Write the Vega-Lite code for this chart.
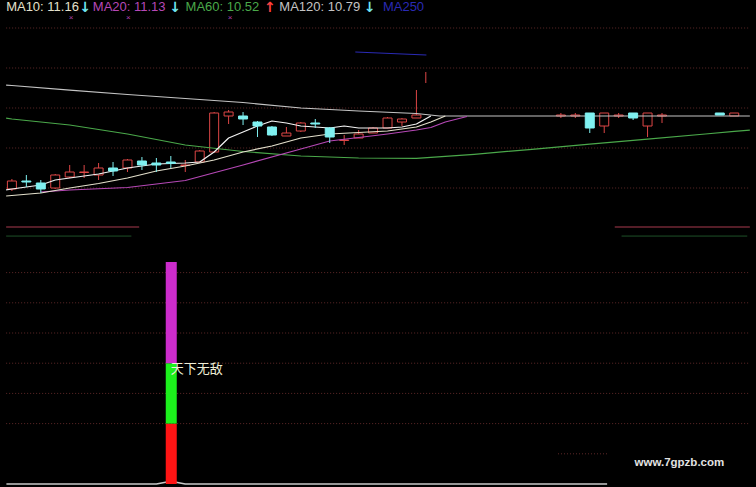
{
  "$schema": "https://vega.github.io/schema/vega-lite/v6.json",
  "background": "#000000",
  "padding": 0,
  "spacing": 0,
  "resolve": {"scale": {"color": "independent"}},
  "config": {
    "view": {"stroke": null},
    "axis": {"disable": true},
    "legend": {"disable": true},
    "text": {"font": "Liberation Sans"}
  },
  "datasets": {
    "candles": [
      {"day": 0, "open": 8.975, "close": 9.175, "high": 9.225, "low": 8.925, "dir": "up"},
      {"day": 1, "open": 9.175, "close": 9.15, "high": 9.325, "low": 9.025, "dir": "down"},
      {"day": 2, "open": 9.125, "close": 8.975, "high": 9.2, "low": 8.875, "dir": "down"},
      {"day": 3, "open": 9.0, "close": 9.325, "high": 9.35, "low": 8.975, "dir": "up"},
      {"day": 4, "open": 9.275, "close": 9.4, "high": 9.575, "low": 9.25, "dir": "up"},
      {"day": 5, "open": 9.3875, "close": 9.4, "high": 9.575, "low": 9.25, "dir": "up"},
      {"day": 6, "open": 9.325, "close": 9.5, "high": 9.625, "low": 9.2, "dir": "up"},
      {"day": 7, "open": 9.5, "close": 9.425, "high": 9.65, "low": 9.3, "dir": "down"},
      {"day": 8, "open": 9.5, "close": 9.7, "high": 9.725, "low": 9.4, "dir": "up"},
      {"day": 9, "open": 9.675, "close": 9.575, "high": 9.775, "low": 9.45, "dir": "down"},
      {"day": 10, "open": 9.625, "close": 9.575, "high": 9.75, "low": 9.4, "dir": "down"},
      {"day": 11, "open": 9.65, "close": 9.6125, "high": 9.8, "low": 9.5, "dir": "down"},
      {"day": 12, "open": 9.5625, "close": 9.575, "high": 9.7, "low": 9.4, "dir": "up"},
      {"day": 13, "open": 9.65, "close": 9.925, "high": 9.95, "low": 9.625, "dir": "up"},
      {"day": 14, "open": 9.9, "close": 10.875, "high": 10.9, "low": 9.9, "dir": "up"},
      {"day": 15, "open": 10.8, "close": 10.9, "high": 10.95, "low": 10.6, "dir": "up"},
      {"day": 16, "open": 10.8, "close": 10.725, "high": 10.9, "low": 10.575, "dir": "down"},
      {"day": 17, "open": 10.65, "close": 10.55, "high": 10.675, "low": 10.275, "dir": "down"},
      {"day": 18, "open": 10.525, "close": 10.325, "high": 10.55, "low": 10.3, "dir": "down"},
      {"day": 19, "open": 10.3, "close": 10.375, "high": 10.525, "low": 10.3, "dir": "up"},
      {"day": 20, "open": 10.425, "close": 10.625, "high": 10.65, "low": 10.4, "dir": "up"},
      {"day": 21, "open": 10.625, "close": 10.6, "high": 10.725, "low": 10.5, "dir": "down"},
      {"day": 22, "open": 10.5, "close": 10.275, "high": 10.525, "low": 10.125, "dir": "down"},
      {"day": 23, "open": 10.1875, "close": 10.2, "high": 10.325, "low": 10.075, "dir": "up"},
      {"day": 24, "open": 10.25, "close": 10.35, "high": 10.45, "low": 10.25, "dir": "up"},
      {"day": 25, "open": 10.375, "close": 10.5, "high": 10.525, "low": 10.375, "dir": "up"},
      {"day": 26, "open": 10.5, "close": 10.75, "high": 10.775, "low": 10.5, "dir": "up"},
      {"day": 27, "open": 10.65, "close": 10.725, "high": 10.75, "low": 10.55, "dir": "up"},
      {"day": 28, "open": 10.75, "close": 10.825, "high": 11.45, "low": 10.75, "dir": "up"},
      {"day": 38, "open": 10.8, "close": 10.825, "high": 10.875, "low": 10.75, "dir": "up"},
      {"day": 39, "open": 10.8, "close": 10.825, "high": 10.875, "low": 10.75, "dir": "up"},
      {"day": 40, "open": 10.875, "close": 10.5, "high": 10.875, "low": 10.375, "dir": "down"},
      {"day": 41, "open": 10.55, "close": 10.875, "high": 10.875, "low": 10.375, "dir": "up"},
      {"day": 42, "open": 10.8, "close": 10.825, "high": 10.875, "low": 10.75, "dir": "up"},
      {"day": 43, "open": 10.875, "close": 10.75, "high": 10.875, "low": 10.7, "dir": "down"},
      {"day": 44, "open": 10.55, "close": 10.875, "high": 10.875, "low": 10.275, "dir": "up"},
      {"day": 45, "open": 10.8, "close": 10.825, "high": 10.875, "low": 10.625, "dir": "up"},
      {"day": 49, "open": 10.875, "close": 10.825, "high": 10.875, "low": 10.825, "dir": "down"},
      {"day": 50, "open": 10.8, "close": 10.875, "high": 10.875, "low": 10.8, "dir": "up"}
    ],
    "ma": [
      {"series": "MA120", "day": -0.4, "price": 11.573},
      {"series": "MA120", "day": 0, "price": 11.5625},
      {"series": "MA120", "day": 4, "price": 11.445},
      {"series": "MA120", "day": 8, "price": 11.3375},
      {"series": "MA120", "day": 12, "price": 11.2375},
      {"series": "MA120", "day": 16, "price": 11.1375},
      {"series": "MA120", "day": 20, "price": 11.0},
      {"series": "MA120", "day": 24, "price": 10.925},
      {"series": "MA120", "day": 28, "price": 10.8625},
      {"series": "MA120", "day": 29.6, "price": 10.8},
      {"series": "MA120", "day": 51.08, "price": 10.8},
      {"series": "MA60", "day": -0.4, "price": 10.745},
      {"series": "MA60", "day": 0, "price": 10.725},
      {"series": "MA60", "day": 4, "price": 10.575},
      {"series": "MA60", "day": 8, "price": 10.35},
      {"series": "MA60", "day": 12, "price": 10.075},
      {"series": "MA60", "day": 16, "price": 9.9125},
      {"series": "MA60", "day": 20, "price": 9.8},
      {"series": "MA60", "day": 24, "price": 9.75},
      {"series": "MA60", "day": 28, "price": 9.7425},
      {"series": "MA60", "day": 32, "price": 9.8425},
      {"series": "MA60", "day": 36, "price": 9.9675},
      {"series": "MA60", "day": 40, "price": 10.095},
      {"series": "MA60", "day": 44, "price": 10.2225},
      {"series": "MA60", "day": 48, "price": 10.35},
      {"series": "MA60", "day": 50, "price": 10.415},
      {"series": "MA60", "day": 51.08, "price": 10.447},
      {"series": "MA20", "day": 2, "price": 8.9},
      {"series": "MA20", "day": 4, "price": 8.95},
      {"series": "MA20", "day": 8, "price": 9.0125},
      {"series": "MA20", "day": 12, "price": 9.1875},
      {"series": "MA20", "day": 16, "price": 9.575},
      {"series": "MA20", "day": 20, "price": 9.975},
      {"series": "MA20", "day": 22, "price": 10.175},
      {"series": "MA20", "day": 24, "price": 10.2625},
      {"series": "MA20", "day": 26, "price": 10.35},
      {"series": "MA20", "day": 28, "price": 10.45},
      {"series": "MA20", "day": 29, "price": 10.5125},
      {"series": "MA20", "day": 30, "price": 10.65},
      {"series": "MA20", "day": 31.5, "price": 10.7875},
      {"series": "MA5", "day": -0.4, "price": 8.955},
      {"series": "MA5", "day": 0, "price": 8.975},
      {"series": "MA5", "day": 2, "price": 9.075},
      {"series": "MA5", "day": 3, "price": 9.2},
      {"series": "MA5", "day": 6, "price": 9.35},
      {"series": "MA5", "day": 8, "price": 9.5},
      {"series": "MA5", "day": 10, "price": 9.6},
      {"series": "MA5", "day": 12, "price": 9.625},
      {"series": "MA5", "day": 13, "price": 9.65},
      {"series": "MA5", "day": 14, "price": 9.9},
      {"series": "MA5", "day": 15, "price": 10.25},
      {"series": "MA5", "day": 16, "price": 10.4},
      {"series": "MA5", "day": 17, "price": 10.55},
      {"series": "MA5", "day": 18, "price": 10.675},
      {"series": "MA5", "day": 19, "price": 10.625},
      {"series": "MA5", "day": 20, "price": 10.55},
      {"series": "MA5", "day": 22, "price": 10.5},
      {"series": "MA5", "day": 23, "price": 10.55},
      {"series": "MA5", "day": 24, "price": 10.5},
      {"series": "MA5", "day": 26, "price": 10.5},
      {"series": "MA5", "day": 27, "price": 10.525},
      {"series": "MA5", "day": 28, "price": 10.6},
      {"series": "MA5", "day": 29, "price": 10.8},
      {"series": "MA10", "day": -0.4, "price": 8.8},
      {"series": "MA10", "day": 0, "price": 8.8125},
      {"series": "MA10", "day": 2, "price": 8.875},
      {"series": "MA10", "day": 4, "price": 9.0},
      {"series": "MA10", "day": 6, "price": 9.1125},
      {"series": "MA10", "day": 8, "price": 9.25},
      {"series": "MA10", "day": 10, "price": 9.425},
      {"series": "MA10", "day": 12, "price": 9.55},
      {"series": "MA10", "day": 14, "price": 9.7},
      {"series": "MA10", "day": 16, "price": 9.9},
      {"series": "MA10", "day": 18, "price": 10.05},
      {"series": "MA10", "day": 20, "price": 10.25},
      {"series": "MA10", "day": 22, "price": 10.35},
      {"series": "MA10", "day": 24, "price": 10.3875},
      {"series": "MA10", "day": 26, "price": 10.425},
      {"series": "MA10", "day": 28, "price": 10.525},
      {"series": "MA10", "day": 29, "price": 10.65},
      {"series": "MA10", "day": 30, "price": 10.8},
      {"series": "MA250", "day": 23.77, "price": 12.4},
      {"series": "MA250", "day": 28.69, "price": 12.325}
    ],
    "header": [
      {"day": -0.4, "price": 13.525, "label": "MA10: 11.16", "series": "MA10"},
      {"day": 5.6, "price": 13.525, "label": "MA20: 11.13", "series": "MA20"},
      {"day": 12.02, "price": 13.525, "label": "MA60: 10.52", "series": "MA60"},
      {"day": 18.51, "price": 13.525, "label": "MA120: 10.79", "series": "MA120"},
      {"day": 25.68, "price": 13.525, "label": "MA250", "series": "MA250"}
    ],
    "trend": [
      {"day": 4.66, "price": 13.5, "label": "↓", "series": "fall"},
      {"day": 10.9, "price": 13.5, "label": "↓", "series": "fall"},
      {"day": 17.45, "price": 13.5, "label": "↑", "series": "rise"},
      {"day": 24.35, "price": 13.5, "label": "↓", "series": "fall"}
    ],
    "crossMarks": [
      {"day": 4.1, "price": 13.25},
      {"day": 8.06, "price": 13.25},
      {"day": 15.1, "price": 13.25}
    ],
    "priceGrid": [
      {"day": -0.4, "day2": 51.08, "price": 9},
      {"day": -0.4, "day2": 51.08, "price": 10},
      {"day": -0.4, "day2": 51.08, "price": 11},
      {"day": -0.4, "day2": 51.08, "price": 12},
      {"day": -0.4, "day2": 51.08, "price": 13}
    ],
    "topSep": [
      {"day": -0.4, "day2": 8.81, "price": 8.025},
      {"day": 41.73, "day2": 51.08, "price": 8.025}
    ],
    "spike": [{"day": 28.65, "low": 11.625, "high": 11.9}],
    "indGrid": [
      {"day": 37.8, "day2": 41.2, "value": 10},
      {"day": -0.4, "day2": 51.08, "value": 20},
      {"day": -0.4, "day2": 51.08, "value": 30},
      {"day": -0.4, "day2": 51.08, "value": 40},
      {"day": -0.4, "day2": 51.08, "value": 50},
      {"day": -0.4, "day2": 51.08, "value": 60},
      {"day": -0.4, "day2": 51.08, "value": 70}
    ],
    "indSep": [
      {"day": -0.4, "day2": 8.27, "value": 82.1},
      {"day": 42.2, "day2": 50.9, "value": 82.1}
    ],
    "indLine": [
      {"day": -0.38, "value": 0},
      {"day": 10, "value": 0},
      {"day": 11, "value": 0.9},
      {"day": 12, "value": 0},
      {"day": 41.2, "value": 0}
    ],
    "signal": [
      {"day": 11.03, "part": "base", "lo": 0, "hi": 20},
      {"day": 11.03, "part": "mid", "lo": 20, "hi": 40},
      {"day": 11.03, "part": "top", "lo": 40, "hi": 73.5}
    ],
    "notes": [{"day": 11.0, "value": 38.1, "label": "天下无敌"}],
    "site": [{"day": 43.1, "value": 6.95, "label": "www.7gpzb.com"}]
  },
  "vconcat": [
    {
      "width": 756,
      "height": 228,
      "layer": [
        {
          "data": {"name": "priceGrid"},
          "mark": {"type": "rule", "color": "#5e2828", "strokeDash": [1, 2], "strokeWidth": 1},
          "encoding": {
            "x": {"field": "day", "type": "quantitative", "scale": {"domain": [-0.478, 51.16], "nice": false, "zero": false}},
            "x2": {"field": "day2"},
            "y": {"field": "price", "type": "quantitative", "scale": {"domain": [8, 13.7], "nice": false, "zero": false}}
          }
        },
        {
          "data": {"name": "topSep"},
          "mark": {"type": "rule", "color": "#a83a4e", "strokeWidth": 1},
          "encoding": {
            "x": {"field": "day", "type": "quantitative", "scale": {"domain": [-0.478, 51.16], "nice": false, "zero": false}},
            "x2": {"field": "day2"},
            "y": {"field": "price", "type": "quantitative", "scale": {"domain": [8, 13.7], "nice": false, "zero": false}}
          }
        },
        {
          "data": {"name": "candles"},
          "transform": [{"filter": "datum.dir === 'up'"}],
          "mark": {"type": "rule", "color": "#dd4646", "strokeWidth": 1},
          "encoding": {
            "x": {"field": "day", "type": "quantitative", "scale": {"domain": [-0.478, 51.16], "nice": false, "zero": false}},
            "y": {"field": "low", "type": "quantitative", "scale": {"domain": [8, 13.7], "nice": false, "zero": false}},
            "y2": {"field": "high"}
          }
        },
        {
          "data": {"name": "candles"},
          "transform": [{"filter": "datum.dir === 'up'"}],
          "mark": {"type": "bar", "size": 9, "fill": "#000000", "stroke": "#dd4646", "strokeWidth": 1},
          "encoding": {
            "x": {"field": "day", "type": "quantitative", "scale": {"domain": [-0.478, 51.16], "nice": false, "zero": false}},
            "y": {"field": "open", "type": "quantitative", "scale": {"domain": [8, 13.7], "nice": false, "zero": false}},
            "y2": {"field": "close"}
          }
        },
        {
          "data": {"name": "ma"},
          "mark": {"type": "line", "strokeWidth": 1.2, "strokeJoin": "round", "strokeCap": "butt"},
          "encoding": {
            "x": {"field": "day", "type": "quantitative", "scale": {"domain": [-0.478, 51.16], "nice": false, "zero": false}},
            "y": {"field": "price", "type": "quantitative", "scale": {"domain": [8, 13.7], "nice": false, "zero": false}},
            "color": {
              "field": "series", "type": "nominal",
              "scale": {
                "domain": ["MA5", "MA10", "MA20", "MA60", "MA120", "MA250", "fall", "rise"],
                "range": ["#f2f2f2", "#e4e0cc", "#b648b6", "#4aa84a", "#c4c4c4", "#2a2ab4", "#70e4f0", "#ff4040"]
              }
            }
          }
        },
        {
          "data": {"name": "candles"},
          "transform": [{"filter": "datum.dir === 'down'"}],
          "mark": {"type": "rule", "color": "#7ff0f0", "strokeWidth": 1},
          "encoding": {
            "x": {"field": "day", "type": "quantitative", "scale": {"domain": [-0.478, 51.16], "nice": false, "zero": false}},
            "y": {"field": "low", "type": "quantitative", "scale": {"domain": [8, 13.7], "nice": false, "zero": false}},
            "y2": {"field": "high"}
          }
        },
        {
          "data": {"name": "candles"},
          "transform": [{"filter": "datum.dir === 'down'"}],
          "mark": {"type": "bar", "size": 9, "fill": "#7ff0f0", "stroke": "#7ff0f0", "strokeWidth": 1},
          "encoding": {
            "x": {"field": "day", "type": "quantitative", "scale": {"domain": [-0.478, 51.16], "nice": false, "zero": false}},
            "y": {"field": "open", "type": "quantitative", "scale": {"domain": [8, 13.7], "nice": false, "zero": false}},
            "y2": {"field": "close"}
          }
        },
        {
          "data": {"name": "spike"},
          "mark": {"type": "rule", "color": "#dd4646", "strokeWidth": 1},
          "encoding": {
            "x": {"field": "day", "type": "quantitative", "scale": {"domain": [-0.478, 51.16], "nice": false, "zero": false}},
            "y": {"field": "low", "type": "quantitative", "scale": {"domain": [8, 13.7], "nice": false, "zero": false}},
            "y2": {"field": "high"}
          }
        },
        {
          "data": {"name": "header"},
          "mark": {"type": "text", "align": "left", "baseline": "middle", "fontSize": 13},
          "encoding": {
            "x": {"field": "day", "type": "quantitative", "scale": {"domain": [-0.478, 51.16], "nice": false, "zero": false}},
            "y": {"field": "price", "type": "quantitative", "scale": {"domain": [8, 13.7], "nice": false, "zero": false}},
            "text": {"field": "label"},
            "color": {
              "field": "series", "type": "nominal",
              "scale": {
                "domain": ["MA5", "MA10", "MA20", "MA60", "MA120", "MA250", "fall", "rise"],
                "range": ["#f2f2f2", "#e4e0cc", "#b648b6", "#4aa84a", "#c4c4c4", "#2a2ab4", "#70e4f0", "#ff4040"]
              }
            }
          }
        },
        {
          "data": {"name": "trend"},
          "mark": {"type": "text", "align": "left", "baseline": "middle", "fontSize": 14, "fontWeight": "bold", "font": "DejaVu Sans"},
          "encoding": {
            "x": {"field": "day", "type": "quantitative", "scale": {"domain": [-0.478, 51.16], "nice": false, "zero": false}},
            "y": {"field": "price", "type": "quantitative", "scale": {"domain": [8, 13.7], "nice": false, "zero": false}},
            "text": {"field": "label"},
            "color": {
              "field": "series", "type": "nominal",
              "scale": {
                "domain": ["MA5", "MA10", "MA20", "MA60", "MA120", "MA250", "fall", "rise"],
                "range": ["#f2f2f2", "#e4e0cc", "#b648b6", "#4aa84a", "#c4c4c4", "#2a2ab4", "#70e4f0", "#ff4040"]
              }
            }
          }
        },
        {
          "data": {"name": "crossMarks"},
          "mark": {"type": "text", "text": "×", "fontSize": 8, "color": "#b040b0", "baseline": "middle"},
          "encoding": {
            "x": {"field": "day", "type": "quantitative", "scale": {"domain": [-0.478, 51.16], "nice": false, "zero": false}},
            "y": {"field": "price", "type": "quantitative", "scale": {"domain": [8, 13.7], "nice": false, "zero": false}}
          }
        }
      ]
    },
    {
      "width": 756,
      "height": 259,
      "layer": [
        {
          "data": {"name": "indGrid"},
          "mark": {"type": "rule", "color": "#5e2828", "strokeDash": [1, 2], "strokeWidth": 1},
          "encoding": {
            "x": {"field": "day", "type": "quantitative", "scale": {"domain": [-0.478, 51.16], "nice": false, "zero": false}},
            "x2": {"field": "day2"},
            "y": {"field": "value", "type": "quantitative", "scale": {"domain": [-0.99, 84.77], "nice": false, "zero": false}}
          }
        },
        {
          "data": {"name": "indSep"},
          "mark": {"type": "rule", "color": "#1e5028", "strokeWidth": 1},
          "encoding": {
            "x": {"field": "day", "type": "quantitative", "scale": {"domain": [-0.478, 51.16], "nice": false, "zero": false}},
            "x2": {"field": "day2"},
            "y": {"field": "value", "type": "quantitative", "scale": {"domain": [-0.99, 84.77], "nice": false, "zero": false}}
          }
        },
        {
          "data": {"name": "indLine"},
          "mark": {"type": "line", "color": "#c8c8c8", "strokeWidth": 1.5, "strokeJoin": "round", "strokeCap": "butt"},
          "encoding": {
            "x": {"field": "day", "type": "quantitative", "scale": {"domain": [-0.478, 51.16], "nice": false, "zero": false}},
            "y": {"field": "value", "type": "quantitative", "scale": {"domain": [-0.99, 84.77], "nice": false, "zero": false}}
          }
        },
        {
          "data": {"name": "signal"},
          "mark": {"type": "bar", "size": 11},
          "encoding": {
            "x": {"field": "day", "type": "quantitative", "scale": {"domain": [-0.478, 51.16], "nice": false, "zero": false}},
            "y": {"field": "lo", "type": "quantitative", "scale": {"domain": [-0.99, 84.77], "nice": false, "zero": false}},
            "y2": {"field": "hi"},
            "color": {
              "field": "part", "type": "nominal",
              "scale": {"domain": ["base", "mid", "top"], "range": ["#ff1414", "#1cf01c", "#cc2ccc"]}
            }
          }
        },
        {
          "data": {"name": "notes"},
          "mark": {"type": "text", "align": "left", "baseline": "middle", "fontSize": 13, "font": "Noto Sans CJK SC", "color": "#eeeed6"},
          "encoding": {
            "x": {"field": "day", "type": "quantitative", "scale": {"domain": [-0.478, 51.16], "nice": false, "zero": false}},
            "y": {"field": "value", "type": "quantitative", "scale": {"domain": [-0.99, 84.77], "nice": false, "zero": false}},
            "text": {"field": "label"}
          }
        },
        {
          "data": {"name": "site"},
          "mark": {"type": "text", "align": "left", "baseline": "middle", "fontSize": 11.5, "fontWeight": "bold", "color": "#e2e2e2"},
          "encoding": {
            "x": {"field": "day", "type": "quantitative", "scale": {"domain": [-0.478, 51.16], "nice": false, "zero": false}},
            "y": {"field": "value", "type": "quantitative", "scale": {"domain": [-0.99, 84.77], "nice": false, "zero": false}},
            "text": {"field": "label"}
          }
        }
      ]
    }
  ]
}
